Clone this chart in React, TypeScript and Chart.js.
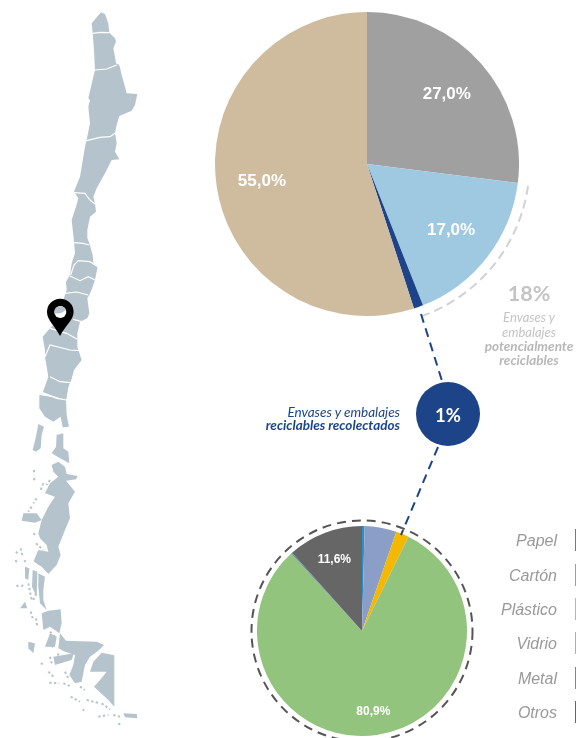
import React, { useEffect, useRef } from "react";
import { Chart, registerables } from "chart.js";

Chart.register(...registerables);

const topCategories = ["Otros residuos", "Potencialmente reciclables", "Recolectados", "Orgánicos"];
const topValues = [27, 17, 1, 55];
const topLabels = ["27,0%", "17,0%", "", "55,0%"];
const topColors = ["#A0A0A0", "#9FC9E0", "#1D4489", "#CFBC9F"];

const bottomCategories = ["Papel", "Cartón", "Plástico", "Vidrio", "Metal", "Otros"];
const bottomValues = [0.4, 4.9, 2.0, 80.9, 0.2, 11.6];
const bottomLabels = ["", "", "", "80,9%", "", "11,6%"];
const bottomColors = ["#2E8FC4", "#8A9EC8", "#F5B800", "#93C47D", "#6A8CA8", "#666666"];

const mapMain =
  "M303,37 315,42 325,70 328,98 345,115 348,125 340,145 345,170 348,190 358,195 365,225 375,260 380,280 412,282 405,315 395,332 358,348 350,375 345,398 350,430 345,455 358,478 335,480 315,520 290,565 280,590 285,610 288,635 270,650 262,690 262,715 268,730 278,765 280,790 293,800 285,840 278,860 268,885 262,895 268,940 262,955 240,965 232,1000 232,1040 245,1080 222,1110 215,1135 205,1160 198,1200 145,1130 135,1070 135,1050 128,1010 150,985 160,975 190,900 200,870 198,845 210,825 215,790 225,760 222,725 215,660 228,620 235,595 222,575 240,530 255,440 260,420 270,370 265,320 270,300 265,295 280,230 285,210 282,150 278,100 275,70 Z";
const mapSouth = [
  "M148,0 220,0 215,25 205,50 198,90 128,68 145,20Z",
  "M118,75 198,88 200,135 207,170 188,172 182,140 160,155 135,140 118,115Z",
  "M115,162 132,170 125,195 122,235 108,245 98,240 108,200Z",
  "M170,195 190,190 190,235 205,245 208,280 180,265 155,250 168,230Z",
  "M155,285 175,275 195,290 200,312 233,318 228,328 198,332 225,365 205,400 210,445 195,480 175,530 182,555 170,585 145,612 125,590 100,575 115,540 145,545 140,525 120,505 115,490 125,450 145,410 165,380 135,370 150,340 175,320 160,305Z",
  "M70,430 110,430 125,450 105,458 65,452Z",
  "M115,610 135,620 130,660 130,690 140,720 120,700 115,650Z",
  "M125,730 145,722 182,718 185,760 178,790 150,770 130,780Z",
  "M180,790 198,812 290,815 312,825 295,842 270,860 255,885 245,935 225,940 208,915 220,885 225,855 195,845 175,835Z",
  "M305,848 343,856 343,1010 325,990 282,950 300,930 320,905 270,905 280,875Z",
  "M370,1030 410,1032 412,1045 375,1042Z",
  "M160,860 222,850 215,870 165,885Z",
  "M85,815 105,820 100,850 85,835Z",
  "M75,590 88,595 85,630 75,625Z",
  "M60,715 75,695 82,715Z",
  "M98,600 112,605 110,680 96,650Z",
  "M150,790 170,800 165,830 135,830Z",
];
const mapBorders = [
  "M278,100 300,97 328,98",
  "M285,210 320,207 350,195",
  "M260,422 300,412 330,410 345,400",
  "M222,578 255,580 270,600 285,612",
  "M222,728 250,730 268,735",
  "M212,825 222,795 235,782 270,785 293,800",
  "M210,828 240,842 265,830 285,840",
  "M195,880 230,876 265,885",
  "M220,958 245,965",
  "M150,985 200,1000 232,1018",
  "M135,1070 150,1035 210,1050 240,1052",
];
const mapIslets = [
  "M102,300 102,315", "M105,325 100,330", "M130,340 120,365", "M110,385 100,400", "M95,410 85,425",
  "M150,330 140,345", "M48,545 52,550", "M62,535 68,560", "M45,572 52,575", "M72,572 78,575",
  "M50,645 58,655", "M65,650 72,640", "M85,640 95,690", "M100,690 108,670", "M118,640 125,680",
  "M92,725 98,745", "M108,745 112,770", "M150,785 165,800", "M140,825 160,830", "M150,860 155,880",
  "M122,880 135,885", "M145,905 160,920", "M148,938 178,940", "M195,905 205,925", "M190,940 215,950",
  "M212,980 240,995", "M240,950 255,960", "M260,990 300,1000", "M305,1000 330,1018", "M295,1040 325,1035",
  "M340,1035 360,1040", "M355,1060 362,1065", "M108,520 130,540", "M100,490 110,498",
  "M175,850 170,880", "M248,1018 252,1022",
];

const legendTops = [529, 564, 598, 632, 667, 701];
const topFractions = [0.7, 0.7, 0.7, 0.7];
const bottomFractions = [0.75, 0.75, 0.75, 0.765, 0.75, 0.74];

function makeLabelPlugin(labels: string[], fractions: number[], size: number) {
  return {
    id: "sliceLabels",
    afterDatasetsDraw(chart: any) {
      const ctx = chart.ctx;
      const arcs = chart.getDatasetMeta(0).data;
      ctx.save();
      ctx.fillStyle = "#FFFFFF";
      ctx.font = `bold ${size}px "Liberation Sans", Arial, sans-serif`;
      ctx.textAlign = "center";
      ctx.textBaseline = "middle";
      arcs.forEach((arc: any, i: number) => {
        if (!labels[i]) return;
        const mid = (arc.startAngle + arc.endAngle) / 2;
        const r = arc.outerRadius * fractions[i];
        ctx.fillText(labels[i], arc.x + Math.cos(mid) * r, arc.y + Math.sin(mid) * r + 1);
      });
      ctx.restore();
    },
  };
}

function PieCanvas(props: {
  left: number; top: number; size: number; labelsOf: string[]; names: string[];
  values: number[]; colors: string[]; fractions: number[]; fontSize: number;
}) {
  const ref = useRef<HTMLCanvasElement | null>(null);
  useEffect(() => {
    const chart = new Chart(ref.current as HTMLCanvasElement, {
      type: "pie",
      data: {
        labels: props.names,
        datasets: [{ data: props.values, backgroundColor: props.colors, borderWidth: 0 }],
      },
      options: {
        responsive: false,
        animation: false,
        layout: { padding: 0 },
        plugins: { legend: { display: false }, tooltip: { enabled: false } },
      },
      plugins: [makeLabelPlugin(props.labelsOf, props.fractions, props.fontSize)],
    } as any);
    return () => chart.destroy();
  }, []);
  return (
    <canvas
      ref={ref}
      width={props.size}
      height={props.size}
      style={{ position: "absolute", left: props.left, top: props.top, width: props.size, height: props.size }}
    />
  );
}

const calloutFont = 'Lato, "Noto Sans", sans-serif';

function Txt(props: { x: number; y: number; align: "left" | "right" | "center"; style: React.CSSProperties; children: React.ReactNode }) {
  const w = 240;
  const left = props.align === "center" ? props.x - w / 2 : props.align === "right" ? props.x - w : props.x;
  return (
    <div
      style={{
        position: "absolute", left, top: props.y - 10, width: w, height: 20,
        textAlign: props.align, whiteSpace: "nowrap", ...props.style,
      }}
    >
      {props.children}
    </div>
  );
}

export default function App() {
  const grayC = "#C4C4C4";
  const blue = "#1D4489";
  return (
    <div style={{ position: "fixed", left: 0, top: 0, width: 576, height: 738, overflow: "hidden", background: "#fff" }}>
      <svg width={576} height={738} style={{ position: "absolute", left: 0, top: 0 }}>
        <g transform="scale(0.33333)">
          <path d={mapMain} fill="#B5C4CC" />
          <path d={mapBorders.join(" ")} fill="none" stroke="#fff" strokeWidth={3.5} />
          <g transform="translate(0,1110)">
            {mapSouth.map((d, i) => <path key={i} d={d} fill="#B5C4CC" />)}
            <path d="M128,68 170,85 200,90" fill="none" stroke="#fff" strokeWidth={3.5} />
            <path d="M150,20 180,35 212,38" fill="none" stroke="#fff" strokeWidth={3.5} />
            <path d="M100,575 145,615" fill="none" stroke="#fff" strokeWidth={3.5} />
            <path d={mapIslets.join(" ")} fill="none" stroke="#B5C4CC" strokeWidth={6} strokeDasharray="7 7" />
          </g>
        </g>
        <path d="M60,336 C55,326 47,320 47,312 A13.3,13.3 0 1 1 73.6,312 C73.6,320 65,326 60,336Z" fill="#000" />
        <circle cx={60.3} cy={312} r={6} fill="#fff" />
        <path d="M54.5,313 A6,6 0 0 1 66,310 Q60,315 54.5,313Z" fill="#B5C4CC" />
      </svg>

      <PieCanvas left={215} top={12} size={304} names={topCategories} values={topValues} colors={topColors}
        labelsOf={topLabels} fractions={topFractions} fontSize={17} />
      <PieCanvas left={257} top={526} size={210} names={bottomCategories} values={bottomValues} colors={bottomColors}
        labelsOf={bottomLabels} fractions={bottomFractions} fontSize={12} />

      <svg width={576} height={738} style={{ position: "absolute", left: 0, top: 0 }}>
        <path d="M528,186 A162,162 0 0 1 422,316" fill="none" stroke="#D2D2D2" strokeWidth={2} strokeDasharray="9 5" />
        <path d="M421,314 L443,384" fill="none" stroke={blue} strokeWidth={2} strokeDasharray="9 6" />
        <path d="M438,447 L401,535" fill="none" stroke={blue} strokeWidth={2} strokeDasharray="9 6" />
        <circle cx={362} cy={631} r={110.5} fill="none" stroke="#555" strokeWidth={2} strokeDasharray="9 6" />
        <circle cx={448} cy={414} r={32} fill={blue} />
      </svg>

      <Txt x={448} y={415} align="center" style={{ color: "#fff", font: `bold 18.5px/20px ${calloutFont}` }}>1%</Txt>
      <Txt x={529} y={293} align="center" style={{ color: grayC, font: `bold 21.5px/20px ${calloutFont}` }}>18%</Txt>
      <Txt x={529} y={317} align="center" style={{ color: grayC, font: `italic 13px/20px ${calloutFont}` }}>Envases y</Txt>
      <Txt x={529} y={332} align="center" style={{ color: grayC, font: `italic 13px/20px ${calloutFont}` }}>embalajes</Txt>
      <Txt x={529} y={346} align="center" style={{ color: "#B8B8B8", font: `italic bold 13.5px/20px ${calloutFont}` }}>potencialmente</Txt>
      <Txt x={529} y={360} align="center" style={{ color: "#B8B8B8", font: `italic bold 13.5px/20px ${calloutFont}` }}>reciclables</Txt>
      <Txt x={400} y={412} align="right" style={{ color: blue, font: `italic 13.5px/20px ${calloutFont}` }}>Envases y embalajes</Txt>
      <Txt x={400} y={425} align="right" style={{ color: blue, font: `italic bold 13.5px/20px ${calloutFont}` }}>reciclables recolectados</Txt>

      {bottomCategories.map((name, i) => (
        <React.Fragment key={name}>
          <Txt x={557} y={legendTops[i] + 12} align="right"
            style={{ color: "#999", font: 'italic 16px/20px "Liberation Sans", Arial, sans-serif' }}>
            {name}
          </Txt>
          <div style={{ position: "absolute", left: 575, top: legendTops[i], width: 1, height: 22, background: bottomColors[i] }} />
        </React.Fragment>
      ))}
    </div>
  );
}
